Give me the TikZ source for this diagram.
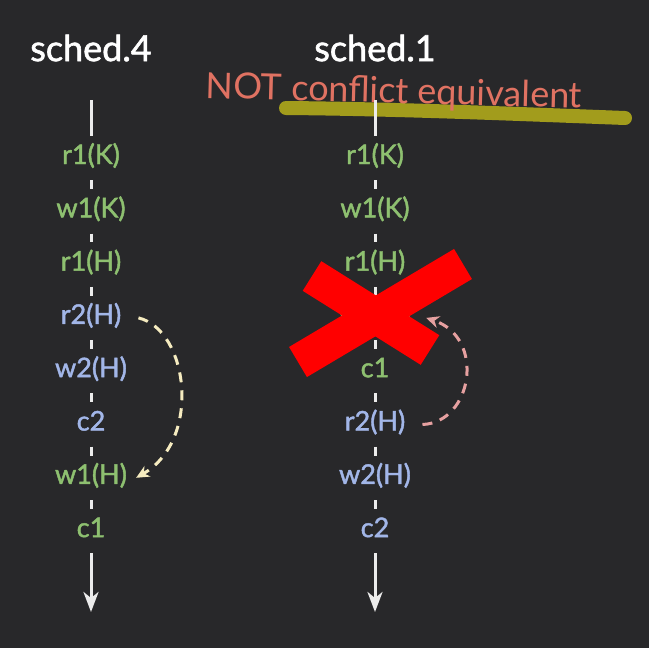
\documentclass[tikz,border=0pt]{standalone}
\usepackage{fontspec}
\setmainfont{Lato}
\newfontfamily\opfont[FakeBold=1.6]{Lato}
\usetikzlibrary{positioning,arrows.meta}
\definecolor{bgc}{RGB}{40,40,42}
\definecolor{opgreen}{RGB}{142,192,112}
\definecolor{opblue}{RGB}{162,182,232}
\definecolor{linec}{RGB}{236,236,236}
\definecolor{salmon}{RGB}{224,114,98}
\definecolor{olive}{RGB}{162,156,28}
\definecolor{cream}{RGB}{246,236,192}
\definecolor{pinkarc}{RGB}{230,160,160}
\tikzset{
  op/.style={font=\opfont\fontsize{27}{29}\selectfont,text height=18pt,text depth=6pt,
    inner xsep=2pt,inner ysep=0pt,minimum height=44pt},
  grn/.style={op,text=opgreen},
  blu/.style={op,text=opblue},
  ttl/.style={font=\opfont\fontsize{36}{40}\selectfont,text=white},
  warn/.style={font=\fontsize{36}{40}\selectfont,text=salmon},
  seg/.style={draw=linec,line width=3pt},
  hl/.style={draw=olive,line width=14pt,line cap=round},
  yarc/.style={draw=cream,line width=3pt,dash pattern=on 10pt off 8pt,
    -{Stealth[length=13pt,width=12pt]}},
  parc/.style={draw=pinkarc,line width=3pt,dash pattern=on 10pt off 8pt,
    -{Stealth[length=13pt,width=12pt]}},
  xmark/.style={draw=red,line width=35pt}
}
\begin{document}
\begin{tikzpicture}[x=1pt,y=-1pt,node distance=8.9pt]
\useasboundingbox (0,0) rectangle (649,648);
\fill[bgc] (0,0) rectangle (649,648);
% titles
\node[ttl] (t4) at (91,48) {sched.4};
\node[ttl] (t1) at (375,48) {sched.1};
\draw[hl] (286,108) .. controls (400,109) and (520,114) .. (625,118);
\node[warn,rotate=-1.5] (nce) at (394,93) {NOT conflict equivalent};
% sched.4
\node[grn] (a1) at (91,158) {r1(K)};
\node[grn,below=of a1] (a2) {w1(K)};
\node[grn,below=of a2] (a3) {r1(H)};
\node[blu,below=of a3] (a4) {r2(H)};
\node[blu,below=of a4] (a5) {w2(H)};
\node[blu,below=of a5] (a6) {c2};
\node[grn,below=of a6] (a7) {w1(H)};
\node[grn,below=of a7] (a8) {c1};
\coordinate (a0) at (91,100);
\coordinate (a9) at (91,612);
% sched.1
\node[grn] (b1) at (375,158) {r1(K)};
\node[grn,below=of b1] (b2) {w1(K)};
\node[grn,below=of b2] (b3) {r1(H)};
\node[grn,below=of b3] (b4) {w1(H)};
\node[grn,below=of b4] (b5) {c1};
\node[blu,below=of b5] (b6) {r2(H)};
\node[blu,below=of b6] (b7) {w2(H)};
\node[blu,below=of b7] (b8) {c2};
\coordinate (b0) at (375,100);
\coordinate (b9) at (375,612);
% time lines
\foreach \c in {a,b}{
  \draw[seg] (\c0) -- (\c1.north);
  \foreach \i/\j in {1/2,2/3,3/4,4/5,5/6,6/7,7/8}
    \draw[seg] (\c\i.south) -- (\c\j.north);
  \draw[seg,-{Stealth[length=20pt,width=15pt,inset=6pt]}] (\c8.south) -- (\c9);
}
% swaps
\draw[yarc] ([xshift=15pt]a4.east) .. controls +(50,12) and +(66,-38) .. ([xshift=7pt]a7.east);
\draw[parc] ([xshift=15pt]b6.east) .. controls +(50,-2) and +(60,20) .. ([xshift=13pt]b4.east);
% cross
\draw[xmark] (298,362) -- (463,264);
\draw[xmark] (312,276) -- (430,350);
\end{tikzpicture}
\end{document}
